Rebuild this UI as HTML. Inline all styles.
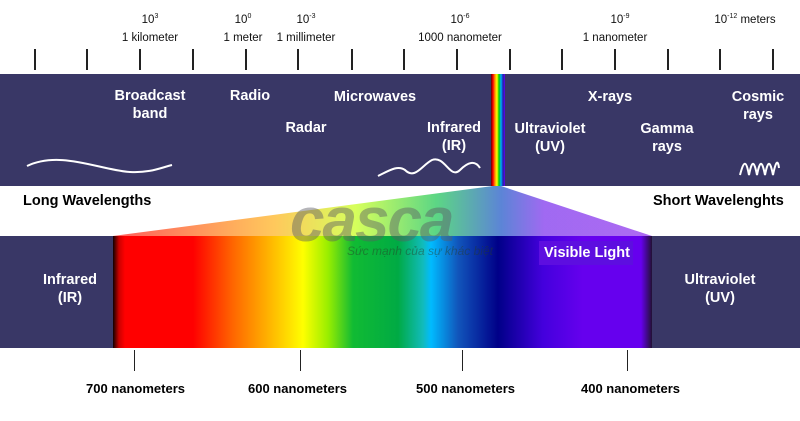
<!DOCTYPE html>
<html><head><style>
body{margin:0;width:800px;height:421px;background:#fff;position:relative;overflow:hidden;font-family:"Liberation Sans",sans-serif}
.a{position:absolute}
.w{color:#fff;font-weight:bold;font-size:14.5px;text-align:center;line-height:18px}
.t{font-size:11.5px;color:#111;text-align:center;white-space:nowrap}
.k{width:2px;background:#222}
.b{font-weight:bold;font-size:13px;color:#000;white-space:nowrap}
.l{font-weight:bold;font-size:14.5px;color:#000;white-space:nowrap}
sup{font-size:7px}
</style></head><body>
<div class="a" style="left:0;top:74px;width:800px;height:112px;background:#393766"></div>
<div class="a" style="left:0;top:236px;width:800px;height:112px;background:#393766"></div>
<div class="a" style="left:491px;top:74px;width:14px;height:112px;background:linear-gradient(90deg,#600,#f00,#f90,#ff0,#0c0,#0af,#22a,#60e)"></div>
<svg class="a" style="left:0;top:0" width="800" height="421">
<polygon points="493,186 501,186 652,236 113,236" fill="url(#fan)" opacity="0.8"/>
<defs><linearGradient id="fan" x1="113" x2="652" gradientUnits="userSpaceOnUse">
<stop offset="0" stop-color="#f33"/><stop offset="0.3" stop-color="#fb3"/><stop offset="0.45" stop-color="#cf3"/><stop offset="0.6" stop-color="#3c6"/><stop offset="0.72" stop-color="#36c"/><stop offset="0.8" stop-color="#84e"/><stop offset="1" stop-color="#94e"/></linearGradient></defs>
<path d="M27,166 C60,150 100,170 130,172 C150,173 160,168 172,165" stroke="#fff" stroke-width="2" fill="none"/>
<path d="M378,176 C390,170 398,165 405,170 C415,180 422,165 432,160 C445,155 450,180 460,170 C468,162 475,160 480,168" stroke="#fff" stroke-width="2" fill="none"/>
<path d="M740,175 C744,160 746,160 749,175 C752,160 754,160 757,175 C760,160 762,160 765,175 C768,160 770,160 773,175 C776,160 778,160 779,168" stroke="#fff" stroke-width="2" fill="none"/>
</svg>
<div class="a" style="left:113px;top:236px;width:539px;height:112px;background:linear-gradient(90deg,#100 0,#c00 6px,#f00 12px,#f00 80px,#f60 120px,#fd0 175px,#ff0 190px,#9e0 215px,#1b3 240px,#0a4 285px,#1bb 310px,#0bf 318px,#15b 345px,#008 385px,#40d 430px,#60e 470px,#60e 528px,#213 539px)"></div>
<div class="a" style="left:290px;top:185px;font-size:62px;font-weight:bold;font-style:italic;color:rgba(90,90,100,0.45);letter-spacing:-2px">casca</div>
<div class="a" style="left:347px;top:244px;font-size:12px;font-style:italic;color:rgba(40,60,40,0.45)">Sức mạnh của sự khác biệt</div>
<div class="a" style="left:539px;top:241px;width:94px;height:24px;background:#5d0ee0"></div>
<div class="a w" style="left:537px;top:244px;width:100px">Visible Light</div>
<div class="a t" style="left:120px;top:13px;width:60px">10<sup>3</sup></div>
<div class="a t" style="left:110px;top:32px;width:80px">1 kilometer</div>
<div class="a t" style="left:213px;top:13px;width:60px">10<sup>0</sup></div>
<div class="a t" style="left:213px;top:32px;width:60px">1 meter</div>
<div class="a t" style="left:276px;top:13px;width:60px">10<sup>-3</sup></div>
<div class="a t" style="left:266px;top:32px;width:80px">1 millimeter</div>
<div class="a t" style="left:430px;top:13px;width:60px">10<sup>-6</sup></div>
<div class="a t" style="left:410px;top:32px;width:100px">1000 nanometer</div>
<div class="a t" style="left:590px;top:13px;width:60px">10<sup>-9</sup></div>
<div class="a t" style="left:565px;top:32px;width:100px">1 nanometer</div>
<div class="a t" style="left:705px;top:13px;width:80px">10<sup>-12</sup> meters</div>
<div class="a k" style="left:34px;top:49px;height:21px"></div>
<div class="a k" style="left:86px;top:49px;height:21px"></div>
<div class="a k" style="left:139px;top:49px;height:21px"></div>
<div class="a k" style="left:192px;top:49px;height:21px"></div>
<div class="a k" style="left:245px;top:49px;height:21px"></div>
<div class="a k" style="left:297px;top:49px;height:21px"></div>
<div class="a k" style="left:351px;top:49px;height:21px"></div>
<div class="a k" style="left:403px;top:49px;height:21px"></div>
<div class="a k" style="left:456px;top:49px;height:21px"></div>
<div class="a k" style="left:509px;top:49px;height:21px"></div>
<div class="a k" style="left:561px;top:49px;height:21px"></div>
<div class="a k" style="left:614px;top:49px;height:21px"></div>
<div class="a k" style="left:667px;top:49px;height:21px"></div>
<div class="a k" style="left:719px;top:49px;height:21px"></div>
<div class="a k" style="left:772px;top:49px;height:21px"></div>
<div class="a w" style="left:100px;top:87px;width:100px">Broadcast<br>band</div>
<div class="a w" style="left:220px;top:87px;width:60px">Radio</div>
<div class="a w" style="left:320px;top:88px;width:110px">Microwaves</div>
<div class="a w" style="left:276px;top:119px;width:60px">Radar</div>
<div class="a w" style="left:418px;top:119px;width:72px">Infrared<br>(IR)</div>
<div class="a w" style="left:503px;top:120px;width:94px">Ultraviolet<br>(UV)</div>
<div class="a w" style="left:580px;top:88px;width:60px">X-rays</div>
<div class="a w" style="left:628px;top:120px;width:78px">Gamma<br>rays</div>
<div class="a w" style="left:720px;top:88px;width:76px">Cosmic<br>rays</div>
<div class="a l" style="left:23px;top:193px">Long Wavelengths</div>
<div class="a l" style="left:653px;top:193px">Short Wavelenghts</div>
<div class="a w" style="left:30px;top:271px;width:80px">Infrared<br>(IR)</div>
<div class="a w" style="left:668px;top:271px;width:104px">Ultraviolet<br>(UV)</div>
<div class="a k" style="left:134px;top:350px;height:21px;width:1px"></div>
<div class="a k" style="left:300px;top:350px;height:21px;width:1px"></div>
<div class="a k" style="left:462px;top:350px;height:21px;width:1px"></div>
<div class="a k" style="left:627px;top:350px;height:21px;width:1px"></div>
<div class="a b" style="left:86px;top:381px">700 nanometers</div>
<div class="a b" style="left:248px;top:381px">600 nanometers</div>
<div class="a b" style="left:416px;top:381px">500 nanometers</div>
<div class="a b" style="left:581px;top:381px">400 nanometers</div>
</body></html>
